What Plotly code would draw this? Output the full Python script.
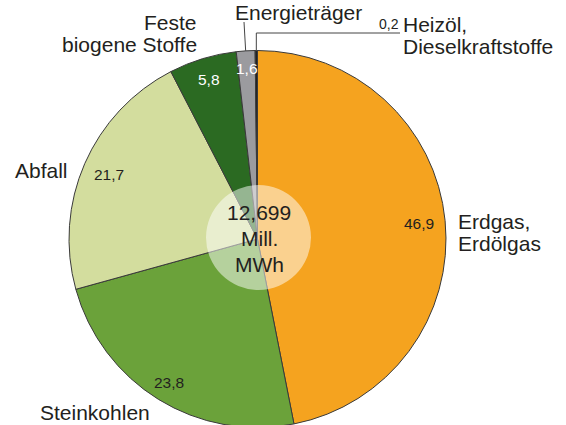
import math
import plotly.graph_objects as go

# ---- data ----
categories = ["Erdgas, Erdölgas", "Steinkohlen", "Abfall",
              "Feste biogene Stoffe", "Energieträger", "Heizöl, Dieselkraftstoffe"]
values = [46.9, 23.8, 21.7, 5.8, 1.6, 0.2]
label_lines = [["Erdgas,", "Erdölgas"], ["Steinkohlen"], ["Abfall"],
               ["Feste", "biogene Stoffe"], ["Energieträger"], ["Heizöl,", "Dieselkraftstoffe"]]
center_lines = ["12,699", "Mill.", "MWh"]

# ---- style ----
colors = ["#F5A31F", "#6BA23A", "#D3DD9E", "#2B6A22", "#9B9B9F", "#222222"]
value_font_colors = ["#231F20", "#231F20", "#231F20", "#FFFFFF", "#FFFFFF", "#231F20"]
value_label_radius = [162, 169, 162, 167, 171, None]   # px from centre, None = outside
FONT = "Liberation Sans, Arial, Helvetica, sans-serif"
TXT = "#231F20"

W, H = 566, 432            # figure slightly taller than the 425px window; page clips it
CX, CY, R = 257.5, 239, 188.5
DX, DY, RC = 258.5, 237.5, 52.5   # centre disc


def px(x):
    return x / W


def py(y):
    return 1 - y / H


total = sum(values)
mid_angles = []
acc = 0
for v in values:
    mid_angles.append((acc + v / 2) / total * 2 * math.pi)
    acc += v


def polar(theta, r):
    return CX + r * math.sin(theta), CY - r * math.cos(theta)


fig = go.Figure()
fig.add_trace(go.Pie(
    values=values, labels=categories, sort=False, direction="clockwise", rotation=0,
    marker=dict(colors=colors, line=dict(color="#3a3a3a", width=1)),
    textinfo="none", hoverinfo="label+value", showlegend=False,
    domain=dict(x=[px(CX - R), px(CX + R)], y=[py(CY + R), py(CY - R)]),
))
fig.add_trace(go.Pie(
    values=[1], labels=["Gesamt"], sort=False,
    marker=dict(colors=["rgba(255,255,255,0.5)"], line=dict(width=0)),
    textinfo="none", hoverinfo="skip", showlegend=False,
    domain=dict(x=[px(DX - RC), px(DX + RC)], y=[py(DY + RC), py(DY - RC)]),
))

ann = []
shapes = []


def fmt(v):
    return f"{v:.1f}".replace(".", ",")


# value labels inside slices
for v, th, rl, fc in zip(values, mid_angles, value_label_radius, value_font_colors):
    if rl is None:
        continue
    x, y = polar(th, rl)
    ann.append(dict(x=px(x), y=py(y), text=fmt(v), showarrow=False,
                    font=dict(family=FONT, size=15.5, color=fc),
                    xanchor="center", yanchor="middle"))

# centre text
for i, t in enumerate(center_lines):
    ann.append(dict(x=px(259), y=py(DY - 25 + i * 26), text=t, showarrow=False,
                    font=dict(family=FONT, size=21, color=TXT),
                    xanchor="center", yanchor="middle"))

# category labels (anchor x, first-line y, anchor side)
label_pos = [(456, 222, "left"), (38, 412, "left"), (13, 170, "left"),
             (199, 22, "right"), (233, 12, "left"), (401, 25, "left")]
LINE_GAP = 22
for lines, (lx, ly, side) in zip(label_lines, label_pos):
    for j, t in enumerate(lines):
        ann.append(dict(x=px(lx), y=py(ly + j * LINE_GAP), text=t, showarrow=False,
                        font=dict(family=FONT, size=21, color=TXT),
                        xanchor=side, yanchor="middle"))

# small slices: outside value + leader lines
ex, ey = polar(mid_angles[4], R)
shapes.append(dict(type="line", xref="paper", yref="paper",
                   x0=px(ex), y0=py(ey), x1=px(244), y1=py(22),
                   line=dict(color="#444444", width=1)))
ex, ey = polar(mid_angles[5], R)
shapes.append(dict(type="line", xref="paper", yref="paper",
                   x0=px(ex), y0=py(ey), x1=px(ex), y1=py(33),
                   line=dict(color="#444444", width=1)))
shapes.append(dict(type="line", xref="paper", yref="paper",
                   x0=px(ex), y0=py(33), x1=px(400), y1=py(33),
                   line=dict(color="#444444", width=1)))
ann.append(dict(x=px(401), y=py(24), text=fmt(values[5]), showarrow=False,
                font=dict(family=FONT, size=14, color=TXT),
                xanchor="right", yanchor="middle"))

fig.update_layout(
    width=W, height=H, margin=dict(l=0, r=0, t=0, b=0),
    paper_bgcolor="white", plot_bgcolor="white",
    annotations=ann, shapes=shapes, showlegend=False,
)
fig.write_html("out.html", config={"displayModeBar": False},
               post_script="document.body.style.margin='0';document.body.style.overflow='hidden';")
